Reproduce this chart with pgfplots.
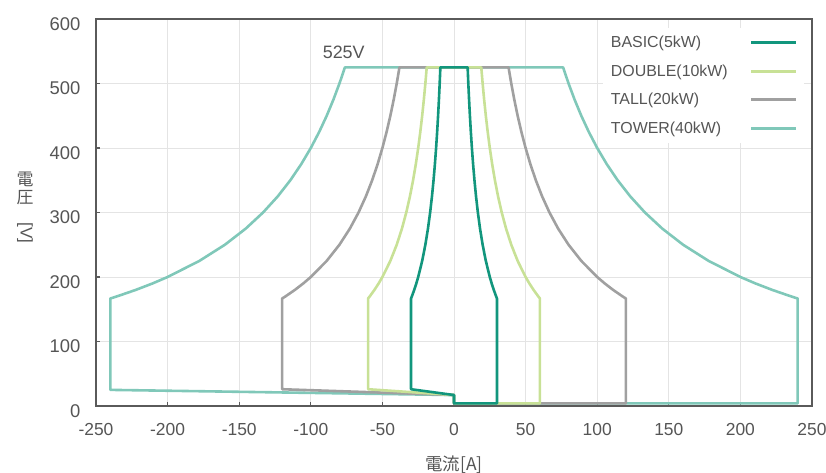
\documentclass[border=0pt]{standalone}
\usepackage{pgfplots}
\pgfplotsset{compat=1.18}
\usepackage{fontspec}
\setmainfont{Liberation Sans}
\newfontfamily\cjk{Noto Sans CJK JP}
\definecolor{basicc}{RGB}{18,150,125}
\definecolor{dblc}{RGB}{200,225,150}
\definecolor{tallc}{RGB}{160,160,160}
\definecolor{towerc}{RGB}{128,200,185}
\definecolor{gridc}{RGB}{228,228,228}
\definecolor{axisc}{RGB}{90,90,90}
\definecolor{labc}{RGB}{85,85,85}
\begin{document}
\begin{tikzpicture}
\useasboundingbox (0,0) rectangle (826bp,473bp);
\begin{axis}[
  name=ax,
  at={(96bp,67bp)}, anchor=south west,
  width=716bp, height=387bp, scale only axis,
  xmin=-250, xmax=250, ymin=0, ymax=600,
  xtick={-250,-200,...,250}, ytick={0,100,...,600},
  grid=major, major grid style={draw=gridc, line width=0.8bp},
  axis line style={draw=axisc, line width=1.8bp},
  tick style={draw=axisc, line width=1.2bp},
  major tick length=4bp, tick pos=left, tick align=inside,
  ticklabel style={font=\fontsize{17.5}{20}\selectfont, text=labc},
  /pgf/number format/assume math mode=true,
  xticklabel style={yshift=-14bp},
  yticklabel style={xshift=-12bp, yshift=-5bp, font=\fontsize{18.5}{20}\selectfont},
  xlabel={\cjk 電流[A]},
  xlabel style={at={(axis description cs:0.5,0)}, anchor=center, yshift=-59bp, font=\fontsize{17.5}{20}\selectfont, text=labc},
  reverse legend,
  legend plot pos=right,
  legend cell align=left,
  legend image code/.code={\draw[#1, line width=3bp] (0bp,0bp) -- (45bp,0bp);},
  legend style={at={(1,1)}, anchor=north east, xshift=-8bp, yshift=-9bp, draw=none, fill=white,
    font=\fontsize{16}{18}\selectfont, text=labc, row sep=11.5bp, column sep=20bp, inner xsep=6bp, inner ysep=6bp},
  every axis plot/.append style={line width=2.6bp, line join=round},
]
\addplot[towerc, mark=none] coordinates {
(-76.19,525) (-80,500) (-84.211,475) (-88.889,450) (-94.118,425) (-100,400) (-106.667,375) (-114.286,350) (-123.077,325) (-133.333,300) (-145.455,275) (-160,250) (-177.778,225) (-200,200) (-210.526,190) (-222.222,180) (-235.294,170) (-240,166.67)
(-240,25) (0,17) (0,4) (240,4)
(240,166.67) (235.294,170) (222.222,180) (210.526,190) (200,200) (177.778,225) (160,250) (145.455,275) (133.333,300) (123.077,325) (114.286,350) (106.667,375) (100,400) (94.118,425) (88.889,450) (84.211,475) (80,500) (76.19,525)
(-76.19,525)
} -- cycle;
\addlegendentry{TOWER(40kW)}
\addplot[tallc, mark=none] coordinates {
(-38.095,525) (-40,500) (-42.105,475) (-44.444,450) (-47.059,425) (-50,400) (-53.333,375) (-57.143,350) (-61.538,325) (-66.667,300) (-72.727,275) (-80,250) (-88.889,225) (-100,200) (-105.263,190) (-111.111,180) (-117.647,170) (-120,166.67)
(-120,26) (0,17) (0,4) (120,4)
(120,166.67) (117.647,170) (111.111,180) (105.263,190) (100,200) (88.889,225) (80,250) (72.727,275) (66.667,300) (61.538,325) (57.143,350) (53.333,375) (50,400) (47.059,425) (44.444,450) (42.105,475) (40,500) (38.095,525)
(-38.095,525)
} -- cycle;
\addlegendentry{TALL(20kW)}
\addplot[dblc, mark=none] coordinates {
(-19.048,525) (-20,500) (-21.053,475) (-22.222,450) (-23.529,425) (-25,400) (-26.667,375) (-28.571,350) (-30.769,325) (-33.333,300) (-36.364,275) (-40,250) (-44.444,225) (-50,200) (-52.632,190) (-55.556,180) (-58.824,170) (-60,166.67)
(-60,26) (0,17) (0,4) (60,4)
(60,166.67) (58.824,170) (55.556,180) (52.632,190) (50,200) (44.444,225) (40,250) (36.364,275) (33.333,300) (30.769,325) (28.571,350) (26.667,375) (25,400) (23.529,425) (22.222,450) (21.053,475) (20,500) (19.048,525)
(-19.048,525)
} -- cycle;
\addlegendentry{DOUBLE(10kW)}
\addplot[basicc, mark=none] coordinates {
(-9.524,525) (-10,500) (-10.526,475) (-11.111,450) (-11.765,425) (-12.5,400) (-13.333,375) (-14.286,350) (-15.385,325) (-16.667,300) (-18.182,275) (-20,250) (-22.222,225) (-25,200) (-26.316,190) (-27.778,180) (-29.412,170) (-30,166.67)
(-30,26) (0,17) (0,4) (30,4)
(30,166.67) (29.412,170) (27.778,180) (26.316,190) (25,200) (22.222,225) (20,250) (18.182,275) (16.667,300) (15.385,325) (14.286,350) (13.333,375) (12.5,400) (11.765,425) (11.111,450) (10.526,475) (10,500) (9.524,525)
(-9.524,525)
} -- cycle;
\addlegendentry{BASIC(5kW)}
\node[font=\fontsize{18}{20}\selectfont, text=labc] at (axis cs:-77,548) {525V};
\end{axis}
\node[font=\fontsize{17}{18.5}\selectfont, text=labc, align=center, inner sep=0pt]
  at ([xshift=-71bp, yshift=5bp]ax.west) {\cjk 電\\\cjk 圧\\\rotatebox{-90}{[V]}};
\end{tikzpicture}
\end{document}
